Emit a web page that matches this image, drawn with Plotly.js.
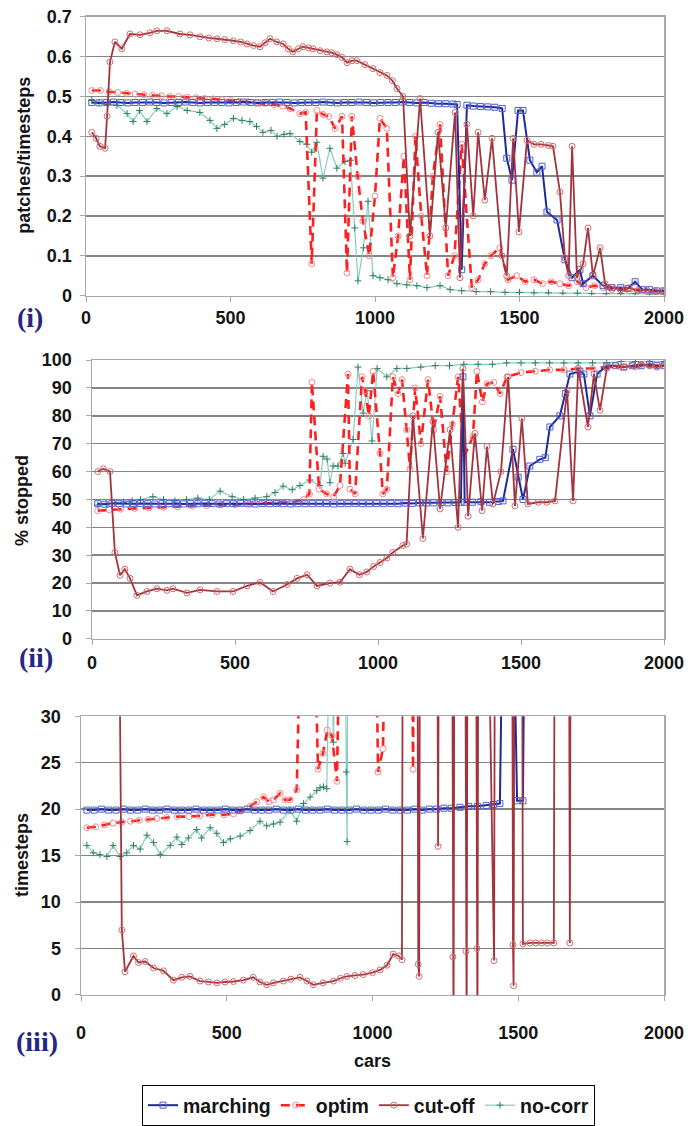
<!DOCTYPE html>
<html><head><meta charset="utf-8">
<script src="https://cdn.plot.ly/plotly-3.0.1.min.js"></script>
<style>html,body{margin:0;padding:0;background:#fff}#chart{width:688px;height:1126px}</style>
</head><body><div id="chart"></div>
<script>
// ---------- Panel (i): patches/timesteps ----------
const mar1X = [20,45,70,95,120,145,170,195,220,245,
 270,295,320,345,370,395,420,445,470,495,
 520,545,570,595,620,645,670,695,720,745,
 770,795,820,845,870,895,920,945,970,995,
 1020,1045,1070,1095,1120,1145,1170,1195,1220,1245,
 1270,1284,1300,1318,1340,1365,1390,1415,1440,1456,
 1474,1495,1512,1536,1560,1578,1595,1630,1657,1682,
 1709,1720,1754,1789,1820,1850,1875,1900,1925,1950,
 1975,2000];
const mar1Y = [.485,.484,.485,.486,.485,.484,.485,.485,.486,.485,
 .484,.485,.485,.486,.485,.484,.485,.485,.485,.484,
 .485,.486,.485,.484,.485,.485,.486,.485,.484,.485,
 .485,.485,.486,.485,.484,.485,.485,.486,.485,.484,
 .485,.485,.485,.486,.485,.484,.485,.483,.482,.482,
 .481,.48,.065,.478,.476,.475,.474,.473,.47,.345,
 .29,.465,.465,.34,.31,.325,.21,.19,.09,.045,
 .065,.03,.05,.025,.02,.02,.018,.035,.015,.015,
 .012,.012];

const opt1X = [20,50,80,110,140,170,200,230,260,290,
 320,350,380,410,440,470,500,530,560,590,
 620,650,680,706,740,760,781,799,820,840,
 862,886,903,920,940,958,980,1000,1017,1041,
 1062,1080,1100,1121,1140,1160,1180,1200,1225,1253,
 1275,1300,1335,1357,1380,1400,1432,1460,1490,1520,
 1550,1580,1610,1640,1670,1700,1730,1760,1790,1820,
 1850,1880,1910,1940,1970,2000];
const opt1Y = [.515,.515,.512,.51,.508,.506,.505,.503,.502,.50,
 .50,.498,.497,.495,.494,.492,.49,.488,.487,.485,
 .483,.48,.476,.47,.457,.46,.08,.465,.455,.45,
 .42,.45,.057,.45,.30,.187,.10,.25,.445,.42,
 .045,.15,.35,.04,.40,.20,.05,.30,.43,.05,
 .10,.38,.02,.04,.08,.10,.12,.04,.05,.035,
 .04,.03,.035,.03,.025,.035,.02,.025,.02,.015,
 .015,.012,.015,.01,.012,.01];

const cut1X = [20,35,48,66,73,83,100,124,152,187,
 221,245,280,325,360,394,425,453,480,510,
 535,557,580,602,620,637,660,682,700,716,
 735,751,770,785,810,834,850,868,886,903,
 920,937,965,993,1017,1041,1060,1076,1097,1121,
 1156,1190,1218,1245,1277,1294,1318,1340,1357,1380,
 1405,1439,1456,1478,1498,1526,1550,1575,1600,1616,
 1640,1657,1670,1682,1699,1720,1737,1754,1779,1796,
 1820,1850,1880,1910,1940,1970,2000];
const cut1Y = [.41,.395,.375,.37,.45,.587,.637,.62,.657,.655,
 .66,.665,.665,.657,.655,.65,.647,.645,.643,.64,
 .637,.632,.628,.625,.635,.645,.637,.632,.62,.612,
 .62,.625,.622,.62,.615,.612,.61,.605,.598,.585,
 .59,.59,.58,.57,.56,.553,.54,.52,.50,.15,
 .495,.15,.41,.17,.46,.045,.43,.20,.41,.24,
 .395,.10,.05,.395,.16,.39,.38,.38,.377,.375,
 .26,.095,.05,.375,.045,.08,.17,.05,.12,.03,
 .02,.015,.02,.012,.015,.01,.01];

const noc1X = [20,45,75,107,142,163,185,211,245,280,
 315,350,394,429,453,480,510,540,567,590,
 612,640,661,685,706,740,764,781,799,820,
 844,868,896,915,930,941,960,976,993,1017,
 1045,1076,1110,1145,1180,1225,1260,1300,1350,1400,
 1450,1500,1550,1600,1650,1700,1750,1800,1850,1900,
 1950,2000];
const noc1Y = [.49,.485,.48,.478,.457,.437,.465,.437,.47,.457,
 .475,.465,.46,.44,.42,.43,.445,.44,.437,.425,
 .41,.415,.40,.405,.407,.387,.38,.36,.385,.295,
 .37,.32,.337,.34,.17,.037,.12,.237,.05,.045,
 .04,.03,.027,.025,.02,.025,.015,.012,.01,.01,
 .008,.008,.007,.007,.006,.006,.005,.005,.005,.005,
 .004,.004];

// ---------- Panel (ii): % stopped ----------
const mar2X = [20,45,70,95,120,145,170,195,220,245,
 270,295,320,345,370,395,420,445,470,495,
 520,545,570,595,620,645,670,695,720,745,
 770,795,820,845,870,895,920,945,970,995,
 1020,1045,1070,1095,1120,1145,1170,1195,1220,1245,
 1270,1290,1297,1303,1330,1360,1390,1420,1437,1472,
 1490,1507,1531,1566,1585,1601,1636,1655,1671,1706,
 1720,1741,1766,1800,1830,1860,1890,1920,1950,1975,
 2000];
const mar2Y = [48.5,48.3,48.6,48.5,48.4,48.5,48.6,48.5,48.4,48.5,
 48.5,48.6,48.4,48.5,48.5,48.6,48.5,48.4,48.5,48.5,
 48.6,48.5,48.4,48.5,48.5,48.6,48.5,48.4,48.5,48.5,
 48.5,48.6,48.5,48.4,48.5,48.5,48.6,48.5,48.5,48.6,
 48.5,48.6,48.5,48.7,48.6,48.8,48.7,48.8,48.9,48.8,
 48.9,49,94,49,49,49.2,49,49.3,49.5,68,
 58,50,62,64.4,65,76,80,88,95,96,
 95,80,95,98,98,97.5,98,98,98.5,98,
 98];

const opt2X = [20,60,100,150,200,250,300,350,400,450,
 500,550,600,650,700,740,760,769,794,820,
 845,867,895,902,920,944,955,968,983,1007,
 1017,1031,1052,1070,1084,1100,1112,1130,1150,1175,
 1195,1217,1240,1260,1280,1300,1332,1346,1365,1381,
 1405,1427,1451,1500,1550,1600,1650,1700,1750,1800,
 1850,1900,1950,2000];
const opt2Y = [46,46.3,46.5,46.8,47,47.2,47.4,47.6,47.8,48,
 48.2,48.4,48.6,48.8,49,50,52,92,53.7,52,
 51,55,95,53.7,52,94,89,80,96,66.5,
 52,53.7,94,88,93,75,61,90,70,93,
 75,87,60,77,94,65,72.6,96,85,91.5,
 92,88,94,95.5,96,96.5,96.5,97,97,97.5,
 97.5,97.5,98,98];

const cut2X = [20,40,63,80,98,115,133,157,192,227,
 262,283,332,378,437,493,542,587,633,682,
 717,752,787,832,867,902,935,961,985,1007,
 1031,1052,1087,1100,1122,1157,1192,1217,1252,1280,
 1297,1315,1339,1364,1381,1402,1430,1455,1479,1503,
 1524,1560,1590,1619,1661,1682,1700,1734,1755,1776,
 1800,1830,1860,1890,1920,1950,1975,2000];
const cut2Y = [60,61,60,31,22.8,25,21.7,15.6,17,18,
 17.4,18,16.5,17.6,17,17,19,20.3,17,19.5,
 21.7,23,19,20,20.3,25,23,24,26,27.4,
 29,31,33.5,34,80,36,78,46.6,75,40,
 97,44,73.7,46,69,48.4,60,94,47.7,79,
 48.4,49,49,49.5,89,49.5,97,76,95,82,
 97,98,97.5,98,98.5,98,97.5,98];

const noc2X = [20,50,80,110,140,170,213,250,290,330,
 370,410,448,490,530,570,611,640,668,700,
 727,762,797,808,822,832,843,860,878,885,
 913,930,948,962,979,997,1031,1066,1101,1150,
 1200,1250,1300,1350,1400,1450,1500,1550,1600,1650,
 1700,1750,1800,1850,1900,1950,2000];
const noc2Y = [48,48.5,48.8,49,49.5,50,51,50,49.5,50,
 50.5,50,53,51,50,50.5,51,52.5,54.8,53.5,
 55,57,55,65.5,64.5,56,62,62,66.5,63,
 71.5,97.5,81,89,71,97,94,97,97,97.5,
 98,98,98.5,98.5,98.5,99,99,99,99,99,
 99,99,99,99.5,99.5,99.5,99.5];

// ---------- Panel (iii): timesteps ----------
const mar3X = [20,45,70,95,120,145,170,195,220,245,
 270,295,320,345,370,395,420,445,470,495,
 520,545,570,595,620,645,670,695,720,745,
 770,795,820,845,870,895,920,945,970,995,
 1020,1045,1070,1095,1120,1145,1170,1195,1220,1245,
 1270,1300,1330,1360,1390,1415,1437,1448,1470,1482,
 1496,1516,1523,1540];
const mar3Y = [19.9,19.9,20,19.9,19.9,20,19.9,19.9,20,19.9,
 19.9,20,19.9,19.9,19.9,20,19.9,19.9,19.9,20,
 19.9,19.9,20,19.9,19.9,19.9,20,19.9,19.9,20,
 19.9,19.9,19.9,20,19.9,19.9,19.9,20,19.9,19.9,
 19.9,20,19.9,19.9,19.9,20,19.9,20,20,20.1,
 20.1,20.2,20.3,20.3,20.4,20.5,20.6,45,45,45,
 20.9,20.9,45,45];

const opt3X = [20,50,80,110,140,170,200,230,260,294,
 330,370,408,450,490,523,550,580,603,626,
 645,660,683,700,717,740,757,797,813,830,
 845,861,878,890,1010,1019,1036,1045,1135,1139,
 1143];
const opt3Y = [18,18.1,18.3,18.5,18.6,18.7,18.8,18.9,19,19.1,
 19.2,19.2,19.3,19.4,19.4,19.5,19.8,20.3,20.8,21.3,
 20.8,21,21.7,21,21,22.1,45,45,24.3,26,
 28.5,27.9,23,45,45,24,26.5,45,45,24.3,
 45];

const cut3X = [130,140,151,180,197,220,249,283,317,346,
 374,408,437,466,494,523,557,591,614,637,
 660,694,720,751,775,797,830,866,890,912,
 940,968,1000,1026,1050,1071,1090,1101,1104,1154,
 1157,1160,1163,1222,1225,1228,1273,1276,1278,1281,
 1318,1321,1323,1326,1355,1358,1360,1363,1396,1417,
 1420,1479,1482,1484,1487,1513,1516,1540,1560,1580,
 1600,1622,1625,1674,1677,1680];
const cut3Y = [45,7,2.5,4.2,3.5,3.6,2.9,2.6,1.6,1.9,
 2,1.5,1.4,1.3,1.4,1.45,1.6,1.9,1.4,1.1,
 1.3,1.5,1.7,1.9,1.5,1.1,1.3,1.5,1.8,2,
 2.1,2.2,2.4,2.7,3.2,4.4,4.2,3.8,45,45,
 3.3,2,45,45,16,45,45,4.1,-5,45,
 45,4.7,-5,45,45,5,-5,45,45,3.7,
 45,45,5.4,1,45,45,5.5,5.6,5.6,5.6,
 5.6,5.6,45,45,5.6,45];

const noc3X = [20,42,65,89,110,134,157,180,203,226,
 249,272,306,329,346,368,397,414,443,466,
 489,512,546,580,614,637,660,683,717,740,
 763,786,809,820,832,843,855,866,875,890,
 905,910,913,916];
const noc3Y = [16.1,15.3,15.1,14.9,16.1,14.9,15.3,16.1,15.7,17.2,
 16.4,15.1,16.1,17,16.2,16.9,17.8,16.9,18,17.4,
 16.4,16.8,17.1,17.7,18.7,18.2,18.4,18.6,19.9,18.7,
 20.6,21.3,22,22.3,22.4,22.2,45,27.2,45,45,
 45,24,16.5,45];

// ---------- axis / labels ----------
const xTicks = [0, 500, 1000, 1500, 2000];
const seriesNames = ['marching', 'optim', 'cut-off', 'no-corr'];
const yTitles = ['patches/timesteps', '% stopped', 'timesteps'];
const panelTags = ['(i)', '(ii)', '(iii)'];
const xTitle = 'cars';

const FONT = 'Liberation Sans, Arial, sans-serif';
const tickFont = {family: FONT, size: 18, color: '#151515', weight: 700};

const styles = {
  'marching': {mode:'lines+markers', line:{color:'#1f2a9a', width:2},
     marker:{symbol:'square-open', size:6, color:'#4d5fd6', line:{width:1}}, rank:1},
  'optim': {mode:'lines+markers', line:{color:'#ff1f1f', width:2.6, dash:'9px,6px'},
     marker:{symbol:'circle-open', size:6, color:'#f28a8a', line:{width:1}}, rank:2},
  'cut-off': {mode:'lines+markers', line:{color:'#a3333d', width:1.8},
     marker:{symbol:'circle-open', size:6, color:'#d46a6a', line:{width:1}}, rank:3},
  'no-corr': {mode:'lines+markers', line:{color:'#86cdbd', width:1.2},
     marker:{symbol:'cross-thin', size:5, color:'#2e7f64', line:{width:1, color:'#2e7f64'}}, rank:4}
};

function tr(name, x, y, panel) {
  const s = styles[name];
  const sfx = panel === 1 ? '' : String(panel);
  return {type:'scatter', name:name, x:x, y:y, mode:s.mode, line:s.line, marker:s.marker,
    xaxis:'x'+sfx, yaxis:'y'+sfx, showlegend: panel === 1, legendrank:s.rank,
    connectgaps:false, hoverinfo:'skip'};
}

const data = [
  tr('no-corr', noc1X, noc1Y, 1), tr('optim', opt1X, opt1Y, 1), tr('marching', mar1X, mar1Y, 1), tr('cut-off', cut1X, cut1Y, 1),
  tr('no-corr', noc2X, noc2Y, 2), tr('optim', opt2X, opt2Y, 2), tr('marching', mar2X, mar2Y, 2), tr('cut-off', cut2X, cut2Y, 2),
  tr('no-corr', noc3X, noc3Y, 3), tr('optim', opt3X, opt3Y, 3), tr('marching', mar3X, mar3Y, 3), tr('cut-off', cut3X, cut3Y, 3)
];

const W = 688, H = 1126;
function xAx(left, anchor, standoff) {
  return {domain:[left/W, 664/W], range:[0,2000], tickvals:xTicks, ticktext:xTicks.map(String),
    showgrid:false, zeroline:false, showline:true, mirror:true, linecolor:'#a8a8a8', linewidth:1.5,
    ticks:'outside', ticklen:5, tickcolor:'#a8a8a8', tickfont:tickFont, anchor:anchor,
    ticklabelstandoff:standoff, fixedrange:true};
}
function yAx(top, bottom, range, dtick, anchor, standoff) {
  return {domain:[(H-bottom)/H, (H-top)/H], range:range, dtick:dtick, tick0:0,
    showgrid:true, gridcolor:'#858585', gridwidth:1.5, zeroline:false,
    showline:true, mirror:true, linecolor:'#a8a8a8', linewidth:1.5,
    ticks:'outside', ticklen:5, tickcolor:'#a8a8a8', tickfont:tickFont, anchor:anchor,
    ticklabelstandoff:standoff, fixedrange:true};
}

const ann = [];
const yTitlePos = [[24,157],[22,505],[22,862]];
yTitles.forEach((t,i)=>{
  ann.push({text:t, xref:'paper', yref:'paper', x:yTitlePos[i][0]/W, y:(H-yTitlePos[i][1])/H,
    xanchor:'center', yanchor:'middle', textangle:-90, showarrow:false,
    font:{family:FONT, size:18, color:'#151515', weight:700}});
});
const tagPos = [[30,320],[36,663],[37,1050]];
panelTags.forEach((t,i)=>{
  ann.push({text:t, xref:'paper', yref:'paper', x:tagPos[i][0]/W, y:(H-tagPos[i][1])/H,
    xanchor:'center', yanchor:'middle', showarrow:false,
    font:{family:'Liberation Serif, Times New Roman, serif', size:28, color:'#262684', weight:700}});
});
ann.push({text:xTitle, xref:'paper', yref:'paper', x:372/W, y:(H-1070)/H, xanchor:'center', yanchor:'middle',
  showarrow:false, font:{family:FONT, size:18, color:'#151515', weight:700}});

const layout = {
  width:W, height:H, autosize:false, margin:{l:0,r:0,t:0,b:0},
  paper_bgcolor:'#ffffff', plot_bgcolor:'#ffffff',
  xaxis: xAx(86,'y',0), yaxis: yAx(17,298,[0,0.7],0.1,'x',4),
  xaxis2: xAx(92,'y2',2), yaxis2: yAx(363,644,[0,100],10,'x2',10),
  xaxis3: xAx(81,'y3',16), yaxis3: yAx(722,1003,[0,30],5,'x3',10),
  showlegend:true,
  legend:{orientation:'h', x:142/W, xanchor:'left', y:(H-1094)/H, yanchor:'top',
    bordercolor:'#000', borderwidth:1, bgcolor:'#fff',
    font:{family:FONT, size:19.5, color:'#151515', weight:700}, traceorder:'normal'},
  annotations: ann
};

Plotly.newPlot('chart', data, layout, {displayModeBar:false, staticPlot:true});
</script></body></html>
